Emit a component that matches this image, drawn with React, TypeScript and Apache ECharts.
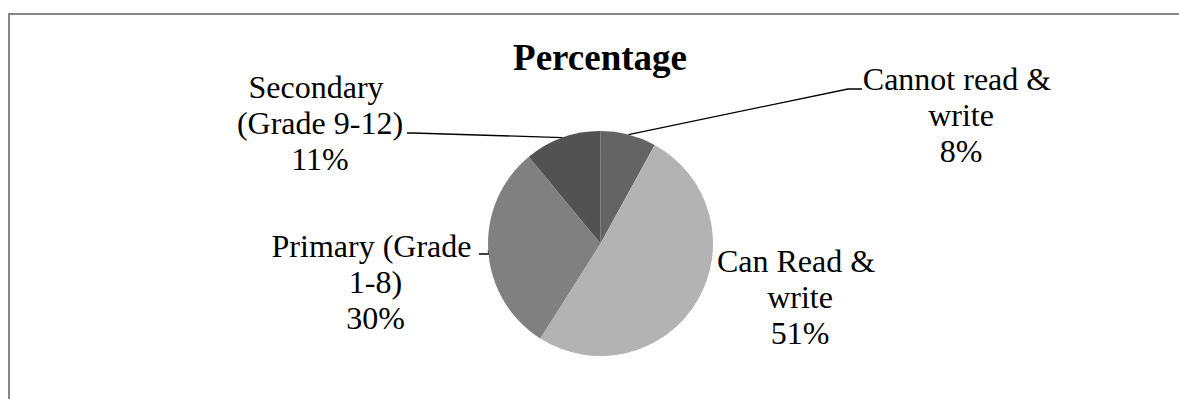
import { useEffect, useRef } from "react";
import * as echarts from "echarts";

const titleText = "Percentage";
const categories = [
  "Cannot read & write",
  "Can Read & write",
  "Primary (Grade 1-8)",
  "Secondary (Grade 9-12)",
];
const percentages = [8, 51, 30, 11];
const sliceColors = ["#646464", "#b3b3b3", "#808080", "#525252"];

// Where each slice label sits: centre x, top of the text block, wrap width,
// and the bends of its leader line (null = no leader line).
const labelSpots: { x: number; y: number; wrap: number; line: number[][] | null }[] = [
  { x: 953, y: 52.5, wrap: 205, line: [[840, 81], [854, 81]] },
  { x: 792, y: 235, wrap: 175, line: null },
  { x: 367.5, y: 219.5, wrap: 220, line: [[481, 246], [471, 246]] },
  { x: 312, y: 61, wrap: 180, line: [[405, 125], [399, 125]] },
];

const serif = "'Liberation Serif', 'Times New Roman', serif";

export default function App() {
  const ref = useRef<HTMLDivElement>(null);

  useEffect(() => {
    if (!ref.current) return;
    const chart = echarts.init(ref.current, undefined, { renderer: "svg" });
    chart.setOption({
      animation: false,
      backgroundColor: "#ffffff",
      title: {
        text: titleText,
        left: 592,
        top: 31,
        padding: 0,
        textAlign: "center",
        textStyle: { fontFamily: serif, fontWeight: "bold", fontSize: 37, color: "#000" },
      },
      graphic: [
        {
          // chart frame: only its left and top edges fall inside the view
          type: "polyline",
          silent: true,
          z: -1,
          shape: { points: [[1, 400], [1, 6], [1180, 6]] },
          style: { fill: "none", stroke: "#878787", lineWidth: 2 },
        },
      ],
      series: [
        {
          type: "pie",
          center: [592.5, 235.5],
          radius: 112.5,
          startAngle: 90,
          clockwise: true,
          avoidLabelOverlap: false,
          silent: true,
          emphasis: { disabled: true },
          data: categories.map((name, i) => ({
            name,
            value: percentages[i],
            itemStyle: { color: sliceColors[i] },
            label: { width: labelSpots[i].wrap },
            labelLine: { show: labelSpots[i].line !== null },
          })),
          label: {
            show: true,
            position: "outside",
            formatter: (p: any) => `${p.name}\n${p.value}%`,
            fontFamily: serif,
            fontSize: 32,
            lineHeight: 36,
            color: "#000",
            overflow: "break",
          },
          labelLine: {
            show: true,
            length: 10,
            length2: 10,
            lineStyle: { color: "#000", width: 1.3 },
          },
          labelLayout: (params: any) => {
            const spot = labelSpots[params.dataIndex];
            const edge = params.labelLinePoints ? params.labelLinePoints[0] : null;
            const out: any = {
              x: spot.x,
              y: spot.y,
              align: "center",
              verticalAlign: "top",
            };
            if (spot.line && edge) out.labelLinePoints = [edge, ...spot.line];
            return out;
          },
        },
      ],
    });
    return () => chart.dispose();
  }, []);

  return (
    <div
      ref={ref}
      style={{ position: "absolute", left: 8, top: 8, width: 1171, height: 391, overflow: "hidden" }}
    />
  );
}
